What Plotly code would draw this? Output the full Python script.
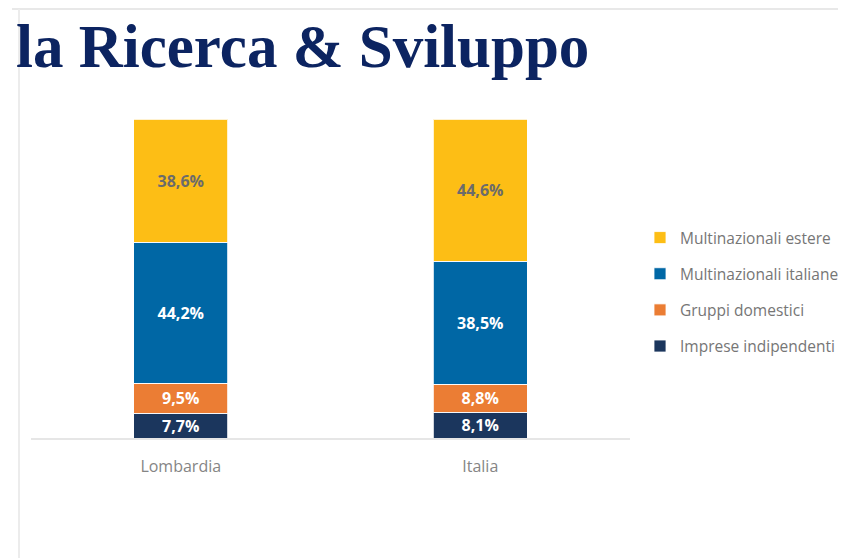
import plotly.graph_objects as go

categories = ["Lombardia", "Italia"]
series_names = ["Imprese indipendenti", "Gruppi domestici", "Multinazionali italiane", "Multinazionali estere"]
imprese_indipendenti = [7.7, 8.1]
gruppi_domestici = [9.5, 8.8]
multinazionali_italiane = [44.2, 38.5]
multinazionali_estere = [38.6, 44.6]
series_values = [imprese_indipendenti, gruppi_domestici, multinazionali_italiane, multinazionali_estere]
legend_ranks = [4, 3, 2, 1]
colors = ["#1B365D", "#EB7D34", "#0067A5", "#FDBE15"]
text_colors = ["#ffffff", "#ffffff", "#ffffff", "#6b6b6b"]
title_text = "la Ricerca & Sviluppo"

# page is rendered with the default 8px body margin
OFF = 8
W, H = 846 - OFF, 558 - OFF
L, R, T, B = 31 - OFF, 630 - OFF, 119 - OFF, 438 - OFF
pw, ph = R - L, B - T

def px_x(x):  # page pixel -> paper
    return (x - OFF - L) / pw

def px_y(y):
    return (B - (y - OFF)) / ph

fig = go.Figure()
for i, (name, vals) in enumerate(zip(series_names, series_values)):
    fig.add_trace(go.Bar(
        x=categories, y=vals, name=name,
        legendgroup=name, legendrank=legend_ranks[i],
        marker=dict(color=colors[i], line=dict(color="rgba(255,255,255,0.8)", width=1)),
        text=[f"{v:.1f}%".replace(".", ",") for v in vals],
        textposition="inside", insidetextanchor="middle",
        textfont=dict(family="Open Sans", size=16, color=text_colors[i], weight="bold"),
        hoverinfo="skip",
    ))

fig.update_layout(
    width=W, height=H,
    barmode="stack", bargap=0.686,
    plot_bgcolor="white", paper_bgcolor="white",
    margin=dict(l=L, r=W - R, t=T, b=H - B, autoexpand=False),
    showlegend=True,
    legend=dict(
        x=px_x(640), y=px_y(221), xanchor="left", yanchor="top",
        traceorder="grouped", tracegroupgap=13,
        font=dict(family="Open Sans", size=15.5, color="#767676"),
        bgcolor="rgba(0,0,0,0)",
    ),
    xaxis=dict(
        showline=True, linecolor="#e6e6e6", linewidth=2,
        ticks="outside", ticklen=13, tickcolor="rgba(0,0,0,0)",
        tickfont=dict(family="Open Sans", size=16, color="#858585"),
        showgrid=False, zeroline=False, range=[-0.5, 1.5],
    ),
    yaxis=dict(range=[0, 100], visible=False, showgrid=False),
    uniformtext=dict(minsize=16, mode="show"),
)

# frame lines of the slide
fig.add_shape(type="line", xref="paper", yref="paper",
              x0=px_x(12), x1=px_x(846), y0=px_y(9), y1=px_y(9),
              line=dict(color="#e8e8e8", width=2), layer="below")
fig.add_shape(type="line", xref="paper", yref="paper",
              x0=px_x(19), x1=px_x(19), y0=px_y(9), y1=px_y(558),
              line=dict(color="#ececec", width=2), layer="below")

fig.add_annotation(
    text=title_text, xref="paper", yref="paper",
    x=px_x(591), y=px_y(46), xanchor="right", yanchor="middle",
    showarrow=False,
    font=dict(family="Liberation Serif", size=61, color="#0C2461", weight="bold"),
)

fig.write_html("out.html")
